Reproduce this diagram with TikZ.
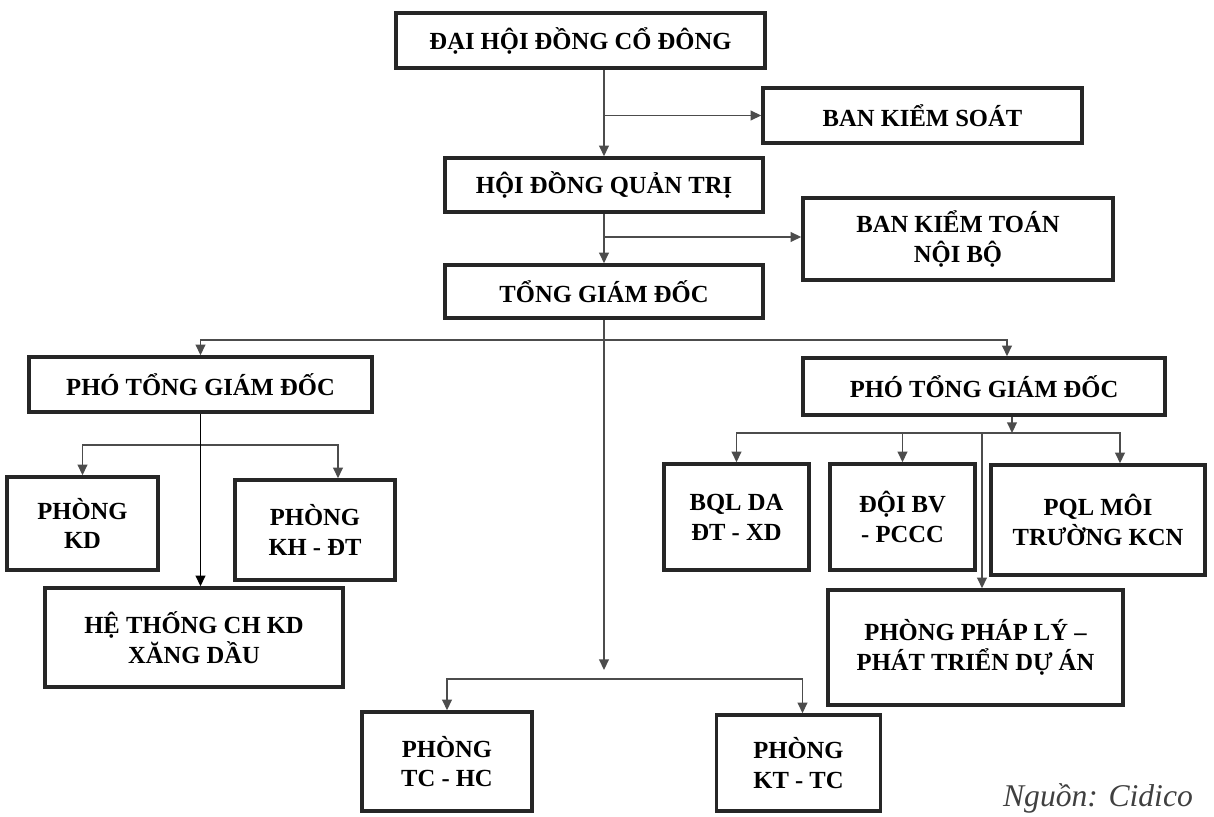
\documentclass[tikz,border=0pt]{standalone}
\usepackage{fontspec}
\setmainfont{Liberation Serif}
\usetikzlibrary{arrows.meta,calc}

\begin{document}
\begin{tikzpicture}[x=0.02cm,y=-0.02cm,
    box/.style 2 args={draw=black!85,line width=2pt,fill=white,
      minimum width=#1*0.02cm,minimum height=#2*0.02cm,inner sep=2pt,
      align=center,font=\bfseries\fontsize{14}{17}\selectfont},
    link/.style={draw=black!70,line width=0.9pt},
    arr/.style={link,-{Triangle[length=6pt,width=5.5pt]}}]
    \useasboundingbox (0,0) rectangle (1214,817);

    % Governing bodies
    \node[box={369}{55}]  (dhd)   at (580.5,40.5) {ĐẠI HỘI ĐỒNG CỔ ĐÔNG};
    \node[box={319}{55}]  (bks)   at (922.5,115.5) {BAN KIỂM SOÁT};
    \node[box={318}{54}]  (hdqt)  at (604,185) {HỘI ĐỒNG QUẢN TRỊ};
    \node[box={310}{82}]  (bktnb) at (958,239) {BAN KIỂM TOÁN\\NỘI BỘ};
    \node[box={318}{53}]  (tgd)   at (604,291.5) {TỔNG GIÁM ĐỐC};

    % Deputy directors
    \node[box={343}{55}]  (ptgd1) at (200.5,384.5) {PHÓ TỔNG GIÁM ĐỐC};
    \node[box={362}{57}]  (ptgd2) at (984,386.5) {PHÓ TỔNG GIÁM ĐỐC};

    % Left branch
    \node[box={151}{93}]  (pkd)   at (82.5,523.5) {PHÒNG\\KD};
    \node[box={160}{100}] (pkhdt) at (315,530) {PHÒNG\\KH - ĐT};
    \node[box={298}{99}]  (htch)  at (194,637.5) {HỆ THỐNG CH KD\\XĂNG DẦU};

    % Right branch
    \node[box={145}{106}] (bql)   at (736.5,517) {BQL DA\\ĐT - XD};
    \node[box={145}{106}] (doi)   at (902.5,517) {ĐỘI BV\\- PCCC};
    \node[box={214}{110}] (pql)   at (1098,520) {PQL MÔI\\TRƯỜNG KCN};
    \node[box={295}{115}] (ppl)   at (975.5,647.5) {PHÒNG PHÁP LÝ –\\PHÁT TRIỂN DỰ ÁN};

    % Offices under the director
    \node[box={170}{99}]  (ptchc) at (447,761.5) {PHÒNG\\TC - HC};
    \node[box={164}{96}]  (pkttc) at (798.5,763) {PHÒNG\\KT - TC};

    \node[anchor=base,text=black!75,font=\itshape\fontsize{18}{20}\selectfont]
      (nguon) at (1098,806) {Nguồn: Cidico};

    % Top chain
    \draw[arr] (dhd.south -| hdqt.north) -- (hdqt.north);
    \draw[arr] (tgd.north |- hdqt.south) -- (tgd.north);
    \coordinate (k1) at (hdqt.north |- bks.west);
    \coordinate (k2) at (hdqt.south |- 0,237);
    \draw[arr] (k1) -- (bks.west);
    \draw[arr] (k2) -- (k2 -| bktnb.west);

    % From the director
    \coordinate (j1) at (tgd.south |- 0,340);
    \coordinate (j3) at (tgd.south |- 0,670);
    \coordinate (j4) at (tgd.south |- 0,679);
    \draw[arr] (j1) -| (ptgd1.north);
    \draw[arr] (j1) -| ($(ptgd2.north)+(23,0)$);
    \draw[arr] (tgd.south) -- (j3);
    \draw[arr] (j4) -| (ptchc.north);
    \draw[arr] (j4) -| ($(pkttc.north)+(4,0)$);

    % Left deputy
    \coordinate (j2) at (ptgd1.south |- 0,445);
    \draw[arr] (j2) -| (pkd.north);
    \draw[arr] (j2) -| ($(pkhdt.north)+(23,0)$);
    \draw[arr,draw=black] (ptgd1.south) -- (ptgd1.south |- htch.north);

    % Right deputy
    \coordinate (b1) at ($(ptgd2.south)+(28,0)$);
    \coordinate (b2) at (b1 |- 0,433);
    \coordinate (b3) at (982,433);
    \draw[arr] (b1) -- (b2);
    \draw[arr] (b2) -| (bql.north);
    \draw[arr] (b2) -| (doi.north);
    \draw[arr] (b2) -| ($(pql.north)+(22,0)$);
    \draw[arr] (b3) -- ($(ppl.north)+(6.5,0)$);
  \end{tikzpicture}
\end{document}
